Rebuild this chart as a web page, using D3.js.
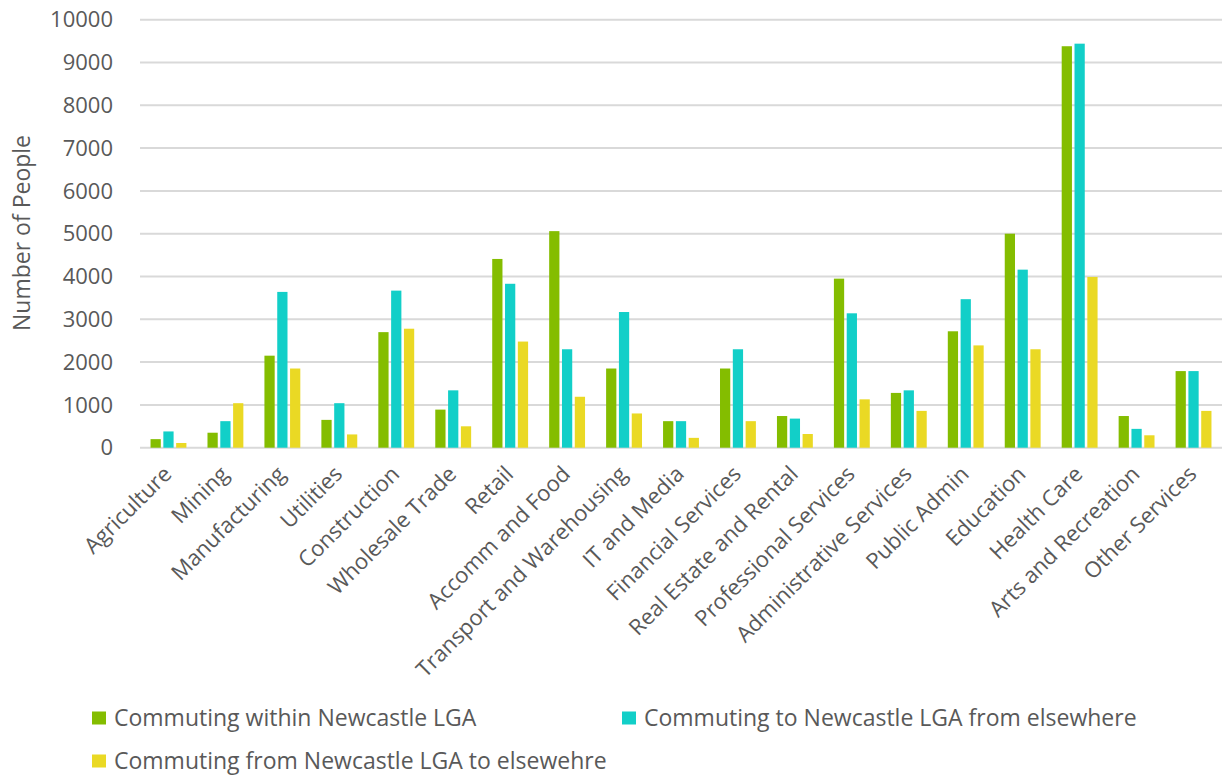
<!DOCTYPE html>
<html><head><meta charset="utf-8">
<script src="https://cdn.jsdelivr.net/npm/d3@7"></script>
<style>body{margin:0;background:#fff}svg{display:block}text{font-family:"Open Sans",sans-serif;fill:#595959}</style>
</head><body><svg id="c" width="1226" height="776"></svg>
<script>
const categories=["Agriculture","Mining","Manufacturing","Utilities","Construction","Wholesale Trade","Retail","Accomm and Food","Transport and Warehousing","IT and Media","Financial Services","Real Estate and Rental","Professional Services","Administrative Services","Public Admin","Education","Health Care","Arts and Recreation","Other Services"];
const seriesNames=["Commuting within Newcastle LGA","Commuting to Newcastle LGA from elsewhere","Commuting from Newcastle LGA to elsewehre"];
const within=[200,350,2150,650,2700,890,4410,5060,1850,620,1850,740,3950,1280,2720,5000,9380,740,1790];
const toNewcastle=[380,620,3640,1040,3670,1340,3830,2300,3170,620,2300,680,3140,1340,3470,4160,9440,440,1790];
const fromNewcastle=[110,1040,1850,310,2780,500,2480,1190,800,230,620,320,1130,860,2390,2300,3990,290,860];
const yTicks=[0,1000,2000,3000,4000,5000,6000,7000,8000,9000,10000];
const colors=["#84BD00","#12CFC8","#EAD924"];

(function(){
const series=[within,toNewcastle,fromNewcastle];
const svg=d3.select("#c");
const pl=140,pr=1222,pt=19.7,pb=447.7;
const y=d3.scaleLinear().domain([0,10000]).range([pb,pt]);
const x0=d3.scaleBand().domain(categories).range([pl,pr]).paddingInner(0.37).paddingOuter(0.185);
const x1=d3.scaleBand().domain([0,1,2]).range([0,x0.bandwidth()]).paddingInner(0.2);

svg.append("g").selectAll("line").data(yTicks).join("line")
 .attr("x1",pl).attr("x2",pr).attr("y1",d=>y(d)).attr("y2",d=>y(d))
 .attr("stroke","#D9D9D9").attr("stroke-width",2);

svg.append("g").selectAll("text").data(yTicks).join("text")
 .attr("x",113).attr("y",d=>y(d)).attr("dy","0.35em").attr("text-anchor","end")
 .attr("font-size",22).text(d=>d);

svg.append("text").attr("transform","translate(30,233) rotate(-90)").attr("text-anchor","middle")
 .attr("font-size",23).text("Number of People");

const g=svg.append("g").selectAll("g").data(categories).join("g")
 .attr("transform",d=>`translate(${x0(d)},0)`);
g.selectAll("rect").data((d,i)=>series.map((s,k)=>({k,v:s[i]}))).join("rect")
 .attr("x",d=>x1(d.k)).attr("width",x1.bandwidth())
 .attr("y",d=>y(d.v)).attr("height",d=>pb-y(d.v))
 .attr("fill",d=>colors[d.k]);

svg.append("g").selectAll("text").data(categories).join("text")
 .attr("transform",d=>`translate(${x0(d)+x0.bandwidth()/2-1},470) rotate(-45)`)
 .attr("text-anchor","end").attr("dy","0.35em").attr("font-size",22).text(d=>d);

const legendPos=[[92,718],[622,718],[92,761]];
const lg=svg.append("g").selectAll("g").data(seriesNames).join("g")
 .attr("transform",(d,i)=>`translate(${legendPos[i][0]},${legendPos[i][1]})`);
lg.append("rect").attr("x",0).attr("y",-6.5).attr("width",14).attr("height",13).attr("fill",(d,i)=>colors[i]);
lg.append("text").attr("x",22).attr("y",0).attr("dy","0.35em").attr("font-size",23).text(d=>d);
})();
</script></body></html>
